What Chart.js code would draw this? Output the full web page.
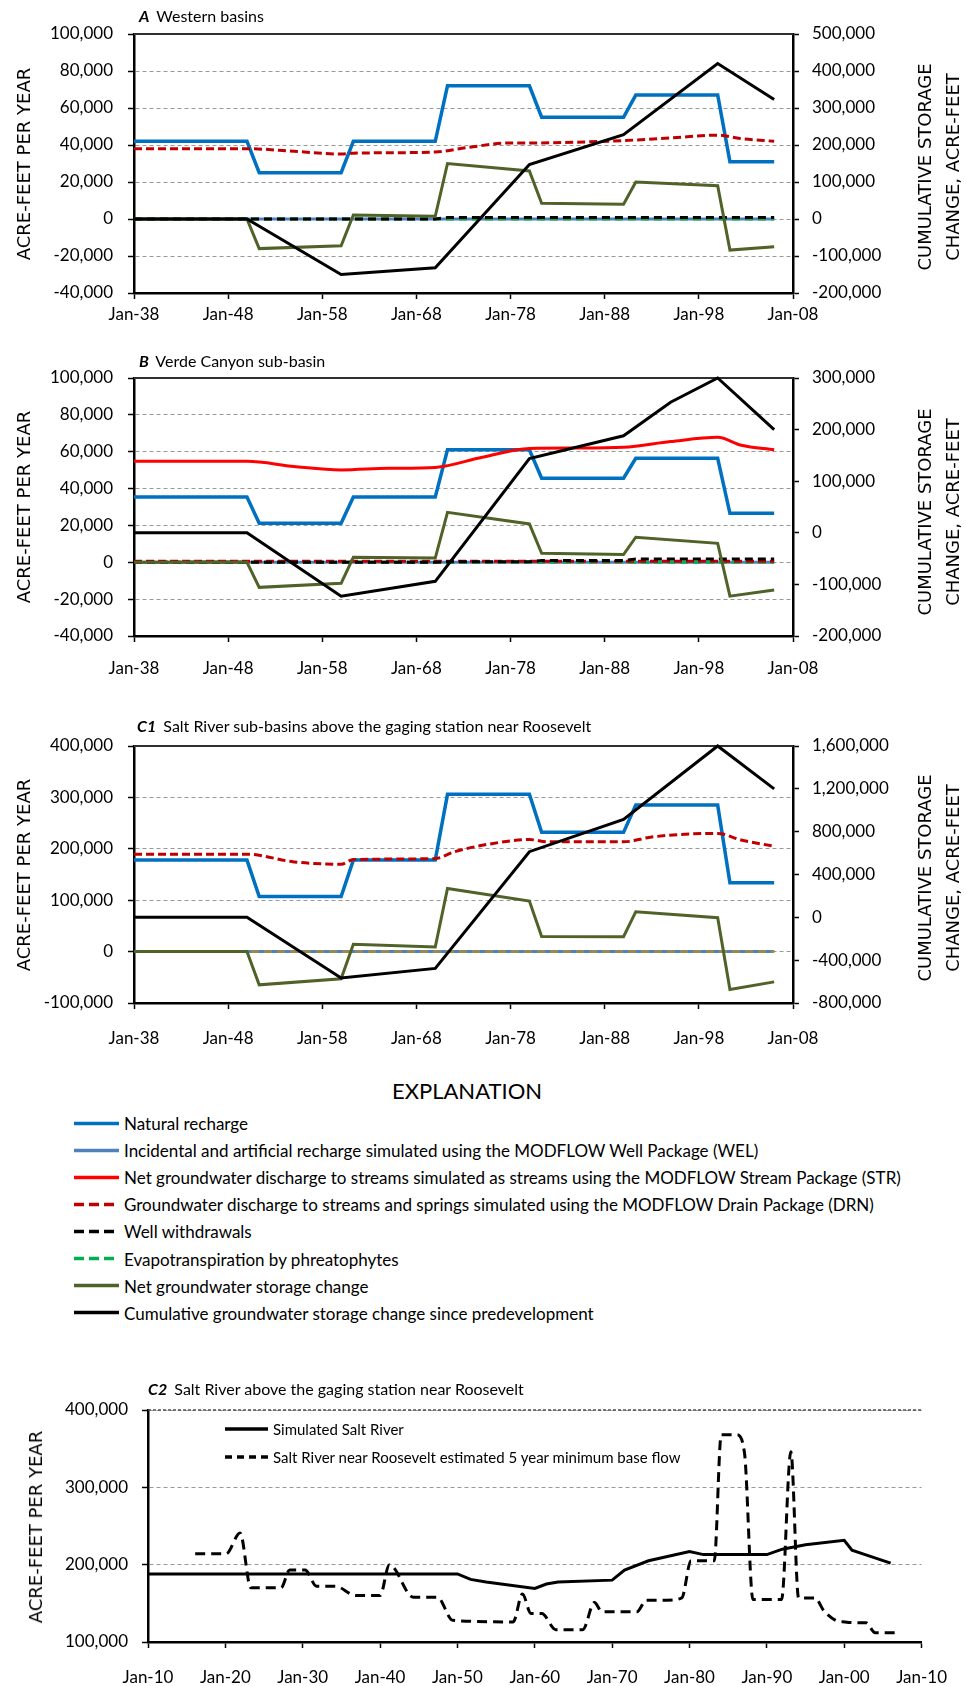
<!DOCTYPE html>
<html>
<head>
<meta charset="utf-8">
<script src="https://cdn.jsdelivr.net/npm/chart.js@4.4.0/dist/chart.umd.min.js"></script>
<style>
body { margin: 0; background: #fff; }
#page { position: relative; width: 966px; height: 1686px; overflow: hidden; font-family: Lato, sans-serif; color: #000; }
#page canvas { position: absolute; left: 0; }
.ptitle { position: absolute; font-size: 16px; white-space: nowrap; transform: translateY(-50%); }
.ptitle b { font-style: italic; margin-right: 3px; }
.ytitle { position: absolute; font-family: "DejaVu Sans", sans-serif; font-size: 18px; white-space: nowrap; text-align: center; line-height: 28px; transform: translate(-50%, -50%) rotate(-90deg); }
.leg { position: absolute; left: 74px; white-space: nowrap; font-size: 17px; transform: translateY(-50%); display: flex; align-items: center; }
.leg svg { margin-right: 5px; }
.leg2 { position: absolute; left: 225px; white-space: nowrap; font-size: 15px; transform: translateY(-50%); display: flex; align-items: center; }
.leg2 svg { margin-right: 5px; }
#expl { position: absolute; left: 467px; top: 1090px; font-size: 22px; transform: translate(-50%, -50%); }
</style>
</head>
<body>
<div id="page">
  <canvas id="chartA" width="966" height="330" style="top:0px"></canvas>
  <canvas id="chartB" width="966" height="345" style="top:340px"></canvas>
  <canvas id="chartC1" width="966" height="355" style="top:700px"></canvas>
  <canvas id="chartC2" width="966" height="316" style="top:1370px"></canvas>

  <div class="ptitle" style="left:139px;top:15px"><b>A</b> Western basins</div>
  <div class="ptitle" style="left:139px;top:360px"><b>B</b> Verde Canyon sub-basin</div>
  <div class="ptitle" style="left:137px;top:725px"><b>C1</b> Salt River sub-basins above the gaging station near Roosevelt</div>
  <div class="ptitle" style="left:148px;top:1388px"><b>C2</b> Salt River above the gaging station near Roosevelt</div>

  <div class="ytitle" style="left:24px;top:164px">ACRE-FEET PER YEAR</div>
  <div class="ytitle" style="left:939px;top:167px">CUMULATIVE STORAGE<br>CHANGE, ACRE-FEET</div>
  <div class="ytitle" style="left:24px;top:507px">ACRE-FEET PER YEAR</div>
  <div class="ytitle" style="left:939px;top:512px">CUMULATIVE STORAGE<br>CHANGE, ACRE-FEET</div>
  <div class="ytitle" style="left:24px;top:875px">ACRE-FEET PER YEAR</div>
  <div class="ytitle" style="left:939px;top:878px">CUMULATIVE STORAGE<br>CHANGE, ACRE-FEET</div>
  <div class="ytitle" style="left:36px;top:1527px">ACRE-FEET PER YEAR</div>

  <div id="expl">EXPLANATION</div>
  <div id="legend"></div>
  <div id="legend2"></div>
</div>

<script>
// years of the stress-period steps, shared by the stepped series
var stepYears = [1938, 1950, 1951.3, 1960, 1961.3, 1970, 1971.3, 1980, 1981.3, 1990, 1991.3, 2000, 2001.3, 2006];
var cumYears = [1938, 1950, 1960, 1970, 1980, 1990, 2000, 2006];

// A  Western basins
var aRecharge = [42000, 42000, 25000, 25000, 42000, 42000, 72000, 72000, 55000, 55000, 67000, 67000, 31000, 31000];
var aWel = [0, 0, 0, 0, 0, 0, 0, 0, 0, 0, 0, 0, 0, 0];
var aWells = [0, 0, 0, 0, 0, 0, 800, 800, 800, 800, 800, 800, 800, 800];
var aEt = [0, 0, 0, 0, 0, 0, 0, 0, 0, 0, 0, 0, 0, 0];
var aNetStorage = [0, 0, -16000, -14500, 2200, 1500, 30000, 26000, 8500, 8000, 20000, 18000, -16800, -15000];
var aDrnYears = [1938, 1950, 1955, 1960, 1961.3, 1970, 1973.5, 1978, 1980, 1990, 1995, 2000, 2002.4, 2006];
var aDrn = [38000, 38000, 36600, 35100, 35600, 36200, 38700, 41100, 41100, 42400, 43800, 45300, 43500, 42000];
var aCum = [0, 0, -150000, -132000, 147000, 228000, 420000, 323000];

// B  Verde Canyon sub-basin
var bRecharge = [35400, 35400, 21200, 21200, 35400, 35400, 61000, 61000, 45600, 45600, 56400, 56400, 26600, 26600];
var bWel = [0, 0, 0, 0, 0, 0, 0, 0, 0, 0, 0, 0, 0, 0];
var bDrn = [600, 600, 600, 600, 600, 600, 600, 600, 600, 600, 600, 600, 600, 600];
var bWells = [0, 0, 0, 0, 0, 0, 300, 300, 1000, 1000, 1800, 1800, 1800, 1800];
var bEt = [0, 0, 0, 0, 0, 0, 0, 0, 0, 0, 0, 0, 0, 0];
var bNetStorage = [0, 0, -13600, -11400, 2700, 2300, 27100, 20800, 4900, 4200, 13600, 10300, -18400, -15000];
var bStrYears = [1938, 1950, 1955, 1960, 1965, 1970, 1975, 1980, 1985, 1990, 1995, 2000, 2002.5, 2006];
var bStr = [54800, 54800, 52000, 50100, 51000, 51500, 57000, 61800, 62000, 62400, 65500, 67800, 63500, 61100];
var bCumYears = [1938, 1950, 1960, 1970, 1980, 1990, 1995, 2000, 2006];
var bCum = [0, 0, -123000, -94000, 144000, 188000, 253000, 300000, 200000];

// C1  Salt River sub-basins above the gaging station near Roosevelt
var c1Recharge = [178000, 178000, 107000, 107000, 178000, 178000, 306000, 306000, 232000, 232000, 285000, 285000, 134000, 134000];
var c1Wel = [0, 0, 0, 0, 0, 0, 0, 0, 0, 0, 0, 0, 0, 0];
var c1Wells = [0, 0, 0, 0, 0, 0, 0, 0, 0, 0, 0, 0, 0, 0];
var c1NetStorage = [0, 0, -64700, -53000, 14200, 9000, 122900, 98300, 29500, 29000, 77600, 66000, -73700, -58900];
var c1DrnYears = [1938, 1950, 1955, 1960, 1961.3, 1970, 1972, 1976, 1980, 1982, 1990, 1993, 2000, 2002.5, 2006];
var c1Drn = [189500, 189500, 174500, 170000, 179000, 181000, 194000, 210000, 218000, 213500, 213500, 223000, 230000, 217000, 205000];
var c1Cum = [0, 0, -567000, -477000, 613000, 914000, 1600000, 1200000];

// C2  Salt River above the gaging station near Roosevelt
var c2SimYears = [1910, 1950, 1951.7, 1953.7, 1960, 1961.5, 1963, 1970, 1971.6, 1974.7, 1980, 1981.8, 1990, 1992, 1995, 2000, 2001, 2002.8, 2006];
var c2Sim = [188000, 188000, 181000, 177600, 169300, 175000, 177600, 180000, 193000, 205000, 217000, 213000, 213000, 220000, 225700, 231600, 218700, 212600, 202000];
var c2BaseYears = [1916.1, 1920.1, 1921.9, 1923.3, 1927.2, 1928.3, 1930.3, 1931.8, 1934.2, 1936.9, 1940, 1941.2, 1944.3, 1947.4,
  1949.4, 1957.2, 1958.4, 1959.5, 1960.9, 1962.7, 1966.2, 1967.7, 1968.7, 1973.2, 1974.4, 1977.1, 1979, 1980.2, 1983.2,
  1984.1, 1986.1, 1987.1, 1988.2, 1991.9, 1993.1, 1994.1, 1996.2, 1997.4, 1998.9, 2000.1, 2001.3, 2002.8, 2004, 2006.7];
var c2Base = [214000, 214000, 241000, 170000, 170000, 193000, 193000, 172000, 172000, 160000, 160000, 200000, 158000, 158000,
  128000, 126000, 162000, 137000, 137000, 116000, 116000, 151000, 139000, 139000, 154000, 154000, 157000, 205000, 205000,
  368000, 368000, 345000, 155000, 155000, 346000, 157000, 157000, 140000, 128000, 126000, 125000, 125000, 112000, 112000];

var legendLabels = [
  "Natural recharge",
  "Incidental and artificial recharge simulated using the MODFLOW Well Package (WEL)",
  "Net groundwater discharge to streams simulated as streams using the MODFLOW Stream Package (STR)",
  "Groundwater discharge to streams and springs simulated using the MODFLOW Drain Package (DRN)",
  "Well withdrawals",
  "Evapotranspiration by phreatophytes",
  "Net groundwater storage change",
  "Cumulative groundwater storage change since predevelopment"
];
var legendColors = ["#0070C0", "#4F81BD", "#FF0000", "#C00000", "#000000", "#00B050", "#4F6228", "#000000"];
var legendDashed = [false, false, false, true, true, true, false, false];

var c2Labels = ["Simulated Salt River", "Salt River near Roosevelt estimated 5 year minimum base flow"];

// ---------- helpers ----------
function pts(xs, ys) {
  return xs.map(function (x, i) { return { x: x, y: ys[i] }; });
}

function series(label, xs, ys, color, extra) {
  return Object.assign({
    label: label,
    data: pts(xs, ys),
    borderColor: color,
    backgroundColor: color,
    borderWidth: 3,
    pointRadius: 0,
    fill: false,
    tension: 0,
    clip: false,
    yAxisID: 'y'
  }, extra || {});
}

function fmt(v) { return Number(v).toLocaleString('en-US'); }
function janLabel(v) { return 'Jan-' + String(Math.round(v) % 100).padStart(2, '0'); }

var tickFont = { family: 'Lato', size: 17 };

var topLine = {
  id: 'topLine',
  beforeDatasetsDraw: function (chart, args, opts) {
    var a = chart.chartArea, ctx = chart.ctx;
    ctx.save();
    ctx.strokeStyle = opts.color || '#404040';
    ctx.lineWidth = opts.width || 2;
    ctx.setLineDash(opts.dash || []);
    ctx.beginPath();
    ctx.moveTo(a.left, a.top);
    ctx.lineTo(a.right, a.top);
    ctx.stroke();
    ctx.restore();
  }
};

function makeChart(id, datasets, cfg) {
  var scales = {
    x: {
      type: 'linear', min: cfg.xmin, max: cfg.xmax,
      ticks: { stepSize: 10, callback: janLabel, font: tickFont, color: '#000', padding: cfg.xpad, maxRotation: 0, autoSkip: false },
      grid: { drawOnChartArea: false, tickLength: 6, tickColor: '#000', tickWidth: 1.5 },
      border: { color: '#000', width: 2.5 },
      afterFit: function (s) { s.height = cfg.xh; }
    },
    y: {
      position: 'left', min: cfg.ymin, max: cfg.ymax,
      ticks: { stepSize: cfg.ystep, callback: fmt, font: tickFont, color: '#000', padding: cfg.ypad },
      grid: { color: '#999', lineWidth: 1, tickLength: 6, tickColor: '#000', tickWidth: 1.5 },
      border: { color: '#000', width: 2.5, dash: [4, 3] },
      afterFit: function (s) { s.width = cfg.yw; }
    }
  };
  if (cfg.y1min !== undefined) {
    scales.y1 = {
      position: 'right', min: cfg.y1min, max: cfg.y1max,
      ticks: { stepSize: cfg.y1step, callback: fmt, font: tickFont, color: '#000', padding: 13 },
      grid: { drawOnChartArea: false, tickLength: 6, tickColor: '#000', tickWidth: 1.5 },
      border: { color: '#000', width: 2.5 },
      afterFit: function (s) { s.width = cfg.y1w; }
    };
  }
  return new Chart(document.getElementById(id), {
    type: 'line',
    data: { datasets: datasets },
    options: {
      responsive: false,
      animation: false,
      parsing: true,
      layout: { padding: { top: cfg.pt, right: cfg.pr || 0, left: 0, bottom: 0 } },
      plugins: { legend: { display: false }, tooltip: { enabled: false }, title: { display: false }, topLine: cfg.top },
      scales: scales
    },
    plugins: [topLine]
  });
}

var dashDrn = [8, 4], dashWell = [8, 5], dashEt = [8, 5];

// ---------- A ----------
makeChart('chartA', [
  series('Cumulative groundwater storage change since predevelopment', cumYears, aCum, '#000000', { yAxisID: 'y1' }),
  series('Net groundwater storage change', stepYears, aNetStorage, '#4F6228'),
  series('Well withdrawals', stepYears, aWells, '#000000', { borderDash: dashWell }),
  series('Evapotranspiration by phreatophytes', stepYears, aEt, '#00B050', { borderDash: dashEt }),
  series('Groundwater discharge to streams and springs (DRN)', aDrnYears, aDrn, '#C00000', { borderDash: dashDrn, cubicInterpolationMode: 'monotone' }),
  series('Incidental and artificial recharge (WEL)', stepYears, aWel, '#4F81BD'),
  series('Natural recharge', stepYears, aRecharge, '#0070C0', { borderWidth: 3.5 })
], { xmin: 1938, xmax: 2008, xpad: 5, xh: 37, ymin: -40000, ymax: 100000, ystep: 20000, ypad: 15, yw: 134,
     y1min: -200000, y1max: 500000, y1step: 100000, y1w: 173, pt: 34, top: { color: '#303030', width: 2 } });

// ---------- B ----------
makeChart('chartB', [
  series('Cumulative groundwater storage change since predevelopment', bCumYears, bCum, '#000000', { yAxisID: 'y1' }),
  series('Net groundwater storage change', stepYears, bNetStorage, '#4F6228'),
  series('Well withdrawals', stepYears, bWells, '#000000', { borderDash: dashWell }),
  series('Groundwater discharge to streams and springs (DRN)', stepYears, bDrn, '#C00000', { borderDash: dashDrn }),
  series('Evapotranspiration by phreatophytes', stepYears, bEt, '#00B050', { borderDash: dashEt }),
  series('Net groundwater discharge to streams (STR)', bStrYears, bStr, '#FF0000', { cubicInterpolationMode: 'monotone' }),
  series('Incidental and artificial recharge (WEL)', stepYears, bWel, '#4F81BD'),
  series('Natural recharge', stepYears, bRecharge, '#0070C0', { borderWidth: 3.5 })
], { xmin: 1938, xmax: 2008, xpad: 16, xh: 49, ymin: -40000, ymax: 100000, ystep: 20000, ypad: 15, yw: 134,
     y1min: -200000, y1max: 300000, y1step: 100000, y1w: 173, pt: 38, top: { color: '#303030', width: 2 } });

// ---------- C1 ----------
makeChart('chartC1', [
  series('Cumulative groundwater storage change since predevelopment', cumYears, c1Cum, '#000000', { yAxisID: 'y1' }),
  series('Net groundwater storage change', stepYears, c1NetStorage, '#4F6228'),
  series('Well withdrawals', stepYears, c1Wells, '#948A54', { borderDash: dashWell }),
  series('Groundwater discharge to streams and springs (DRN)', c1DrnYears, c1Drn, '#C00000', { borderDash: dashDrn, cubicInterpolationMode: 'monotone' }),
  series('Incidental and artificial recharge (WEL)', stepYears, c1Wel, '#4F81BD'),
  series('Natural recharge', stepYears, c1Recharge, '#0070C0', { borderWidth: 3.5 })
], { xmin: 1938, xmax: 2008, xpad: 19, xh: 52, ymin: -100000, ymax: 400000, ystep: 100000, ypad: 15, yw: 134,
     y1min: -800000, y1max: 1600000, y1step: 400000, y1w: 173, pt: 46, top: { color: '#303030', width: 2 } });

// ---------- C2 ----------
makeChart('chartC2', [
  series(c2Labels[0], c2SimYears, c2Sim, '#000000'),
  series(c2Labels[1], c2BaseYears, c2Base, '#000000', { borderDash: [10, 6], cubicInterpolationMode: 'monotone' })
], { xmin: 1910, xmax: 2010, xpad: 19, xh: 44, ymin: 100000, ymax: 400000, ystep: 100000, ypad: 14, yw: 148,
     pr: 28, pt: 40, top: { color: '#505050', width: 1.5, dash: [3, 2] } });

// ---------- legends ----------
function sample(color, dashed, w, dash) {
  return '<svg width="' + w + '" height="8"><line x1="0" y1="4" x2="' + w + '" y2="4" stroke="' + color +
    '" stroke-width="3.5"' + (dashed ? ' stroke-dasharray="' + dash + '"' : '') + '/></svg>';
}
var html = '';
for (var i = 0; i < legendLabels.length; i++) {
  html += '<div class="leg" style="top:' + (1123 + i * 27.1) + 'px">' +
    sample(legendColors[i], legendDashed[i], 45, '10,5') + '<span>' + legendLabels[i] + '</span></div>';
}
document.getElementById('legend').innerHTML = html;

var html2 = '';
for (var j = 0; j < c2Labels.length; j++) {
  html2 += '<div class="leg2" style="top:' + (1429 + j * 28) + 'px">' +
    sample('#000000', j === 1, 43, '7,5') + '<span>' + c2Labels[j] + '</span></div>';
}
document.getElementById('legend2').innerHTML = html2;
</script>
</body>
</html>
